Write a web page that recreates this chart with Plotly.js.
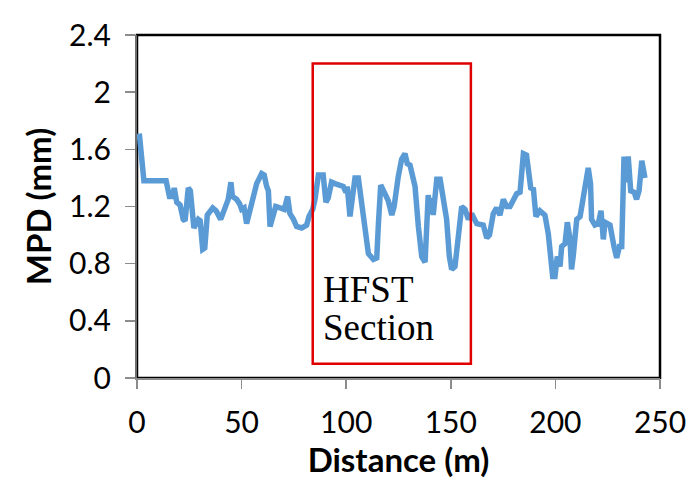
<!DOCTYPE html>
<html>
<head>
<meta charset="utf-8">
<script src="https://cdn.plot.ly/plotly-3.0.1.min.js"></script>
<style>
  html, body { margin: 0; padding: 0; background: #fff; }
  #chart { width: 699px; height: 482px; }
</style>
</head>
<body>
<div id="chart"></div>
<script>
// Mean profile depth along the surveyed distance
const distance = [
  1.1, 3.3, 13.9, 15.5, 17, 17.8, 19, 20.6, 22.1, 23, 24.5, 25.5, 27.2, 29.3, 30.2, 31.4, 32.4,
  33.6, 36.2, 37.8, 40, 41.9, 43.6, 44.9, 45.6, 47.6, 49, 50, 51.2, 52.4, 53.5, 54.8, 57.2,
  59.6, 60.8, 62, 62.8, 63.6, 65.2, 66.3, 68.4, 70.4, 72, 73.1, 74.8, 76.3, 78.7, 81.1, 82.2,
  84, 85.1, 86.7, 89, 90.3, 91.4, 93, 94.6, 96.2, 98.6, 99.9, 100.5, 101.8, 102.6, 104.2,
  105.8, 107.4, 109, 110.6, 113, 114.6, 115.4, 116.5, 118.5, 120.1, 121.8, 122.9, 124.9,
  126.5, 128.1, 129.2, 130.5, 132.9, 134.5, 136.1, 137.7, 138.5, 139.2, 140, 140.8, 141.6,
  143.3, 144.9, 146.4, 148, 149.3, 150.4, 152, 153.6, 155.2, 156.8, 158.4, 160, 162.4, 165.5,
  167.2, 168.5, 170.3, 171.9, 173.5, 175.1, 176.7, 178.3, 179.9, 181.5, 183.1, 184.7, 186.2,
  188.2, 189.5, 190.7, 192.6, 195, 196.6, 198.7, 199.8, 200.9, 202.2, 203, 204.6, 205.7, 207,
  207.7, 208.5, 210.2, 211.8, 214.1, 215.7, 216.8, 217.3, 218.9, 220.5, 221.8, 222.9, 223.7,
  226.1, 228, 229.3, 230.6, 231.7, 232.8, 233.7, 234.8, 236, 237.6, 238.8, 240, 241.3, 242.8
];
const mpd = [
  1.71, 1.38, 1.38, 1.27, 1.27, 1.33, 1.23, 1.21, 1.11, 1.10, 1.33, 1.31, 1.05, 1.11, 1.10, 0.90, 0.91,
  1.14, 1.19, 1.17, 1.11, 1.18, 1.25, 1.37, 1.27, 1.25, 1.22, 1.18, 1.19, 1.08, 1.15, 1.22, 1.36,
  1.43, 1.42, 1.34, 1.31, 1.06, 1.13, 1.20, 1.19, 1.18, 1.27, 1.15, 1.11, 1.06, 1.05, 1.07, 1.13,
  1.18, 1.25, 1.42, 1.42, 1.23, 1.26, 1.37, 1.36, 1.35, 1.34, 1.30, 1.34, 1.13, 1.22, 1.40,
  1.40, 1.22, 1.04, 0.87, 0.83, 0.84, 1.08, 1.35, 1.29, 1.24, 1.14, 1.20, 1.41,
  1.53, 1.57, 1.50, 1.49, 1.34, 1.06, 0.85, 0.81, 1.04, 1.28, 1.15, 1.26, 1.14,
  1.39, 1.39, 1.27, 1.11, 0.85, 0.76, 0.78, 1.04, 1.20, 1.18, 1.11, 1.15, 1.08, 1.07,
  0.98, 1.00, 1.15, 1.19, 1.14, 1.25, 1.20, 1.20, 1.25, 1.29, 1.30, 1.57, 1.56,
  1.33, 1.32, 1.13, 1.17, 1.14, 1.01, 0.71, 0.71, 0.85, 0.78, 0.92, 0.94, 1.09, 0.97,
  0.76, 0.85, 1.11, 1.13, 1.32, 1.47, 1.36, 1.11, 1.07, 1.08, 1.17, 0.97, 1.09,
  1.07, 0.92, 0.84, 0.92, 0.92, 1.55, 1.37, 1.55, 1.31, 1.30, 1.25, 1.31, 1.52, 1.40
];

// HFST section limits (distance, m) and box height (mm)
const hfstStart = 84;
const hfstEnd = 159.6;
const boxBottom = 0.1;
const boxTop = 2.2;
const labelLines = ['HFST', 'Section'];

const xTicks = [0, 50, 100, 150, 200, 250];
const yTicks = [0, 0.4, 0.8, 1.2, 1.6, 2, 2.4];

const tickFont = { family: 'Lato, "Open Sans", sans-serif', size: 30, color: '#000' };
const titleFont = { family: 'Lato, "Open Sans", sans-serif', size: 33, color: '#000', weight: 'bold' };
const serifFont = { family: '"Liberation Serif", "Times New Roman", serif', size: 37, color: '#000' };

const trace = {
  x: distance,
  y: mpd,
  type: 'scatter',
  mode: 'lines',
  line: { color: '#5B9BD5', width: 5.5, shape: 'linear' },
  hoverinfo: 'skip'
};

const layout = {
  width: 699,
  height: 482,
  margin: { l: 137, r: 39, t: 35, b: 104 },
  paper_bgcolor: '#fff',
  plot_bgcolor: '#fff',
  showlegend: false,
  xaxis: {
    range: [0, 250],
    tickvals: xTicks,
    ticktext: xTicks.map(String),
    ticks: 'outside',
    ticklen: 9,
    tickwidth: 1.5,
    tickcolor: '#8c8c8c',
    ticklabelstandoff: 8,
    showline: true,
    linecolor: '#8c8c8c',
    linewidth: 2,
    showgrid: false,
    zeroline: false,
    tickfont: tickFont,
    title: { text: '<b>Distance (m)</b>', font: titleFont, standoff: 0 }
  },
  yaxis: {
    range: [0, 2.4],
    tickvals: yTicks,
    ticktext: yTicks.map(String),
    ticks: 'outside',
    ticklen: 10,
    tickwidth: 1.5,
    tickcolor: '#8c8c8c',
    ticklabelstandoff: 8,
    showline: true,
    linecolor: '#6e6e6e',
    linewidth: 2,
    showgrid: false,
    zeroline: false,
    tickfont: tickFont,
    title: { text: '<b>MPD (mm)</b>', font: titleFont, standoff: 8 }
  },
  shapes: [
    // plot-area frame (top and right edges visible in black)
    { type: 'rect', xref: 'paper', yref: 'paper', x0: 0, x1: 1, y0: 0, y1: 1,
      line: { color: '#000', width: 2.5 }, layer: 'below' },
    // HFST section box
    { type: 'rect', xref: 'x', yref: 'y', x0: hfstStart, x1: hfstEnd, y0: boxBottom, y1: boxTop,
      line: { color: '#e00000', width: 2.5 }, layer: 'above' }
  ],
  annotations: [
    { x: hfstStart + 4, y: 0.62, xref: 'x', yref: 'y', xanchor: 'left', yanchor: 'middle',
      showarrow: false, text: labelLines[0], font: serifFont },
    { x: hfstStart + 4, y: 0.35, xref: 'x', yref: 'y', xanchor: 'left', yanchor: 'middle',
      showarrow: false, text: labelLines[1], font: serifFont }
  ]
};

Plotly.newPlot('chart', [trace], layout, { displayModeBar: false, staticPlot: true });
</script>
</body>
</html>
